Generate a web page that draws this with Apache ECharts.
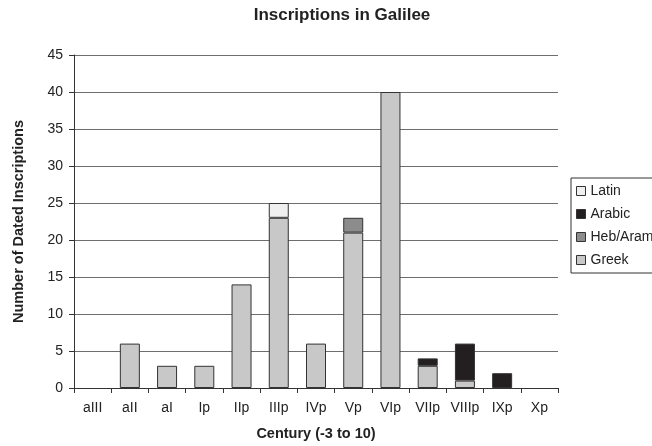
<!DOCTYPE html>
<html><head><meta charset="utf-8">
<script src="https://cdn.jsdelivr.net/npm/echarts@6/dist/echarts.min.js"></script>
<style>html,body{margin:0;padding:0;background:#fff}#c{width:652px;height:446px}</style>
</head><body><div id="c"></div>
<script>
const categories = ['aIII','aII','aI','Ip','IIp','IIIp','IVp','Vp','VIp','VIIp','VIIIp','IXp','Xp'];
const greek   = [0,6,3,3,14,23,6,21,40,3,1,0,0];
const hebAram = [0,0,0,0,0,0,0,2,0,0,0,0,0];
const arabic  = [0,0,0,0,0,0,0,0,0,1,5,2,0];
const latin   = [0,0,0,0,0,2,0,0,0,0,0,0,0];
const legendOrder = ['Latin','Arabic','Heb/Aram','Greek'];

const font = 'Liberation Sans, Arial, sans-serif';
function mk(name, data, color){
  return {name, type:'bar', stack:'s', data: data.map(v => v===0 ? null : v), barWidth:20,
    itemStyle:{color, borderColor:'#333', borderWidth:1}};
}
const chart = echarts.init(document.getElementById('c'));
chart.setOption({
  animation:false,
  textStyle:{fontFamily:font},
  title:{text:'Inscriptions in Galilee', left:337, top:2, textAlign:'center',
    textStyle:{fontFamily:font, fontSize:17, fontWeight:'bold', color:'#222'}},
  legend:{orient:'vertical', left:571, top:178, data:legendOrder, itemWidth:9, itemHeight:9,
    itemGap:9, padding:[6,8,6,5], borderColor:'#333', borderWidth:1,
    textStyle:{fontFamily:font, fontSize:14, color:'#222'},
    icon:'rect', itemStyle:{borderColor:'#333', borderWidth:1}},
  grid:{left:74, right:94, top:55, bottom:55},
  xAxis:{type:'category', data:categories,
    name:'Century (-3 to 10)', nameLocation:'middle', nameGap:38,
    nameTextStyle:{fontFamily:font, fontSize:14.5, fontWeight:'bold', color:'#222'},
    axisLine:{lineStyle:{color:'#333'}},
    axisTick:{show:true, alignWithLabel:false, length:5, lineStyle:{color:'#333'}},
    axisLabel:{fontFamily:font, fontSize:14, color:'#222', margin:13, interval:0, hideOverlap:false}},
  yAxis:{type:'value', min:0, max:45, interval:5,
    name:'Number of Dated Inscriptions', nameLocation:'middle', nameGap:48, nameRotate:90,
    nameTextStyle:{fontFamily:font, fontSize:14.5, fontWeight:'bold', color:'#222'},
    axisLine:{show:true, lineStyle:{color:'#333'}},
    axisTick:{show:true, length:5, lineStyle:{color:'#333'}},
    axisLabel:{fontFamily:font, fontSize:14, color:'#222', margin:11},
    splitLine:{lineStyle:{color:'#6e6e6e'}}},
  series:[
    mk('Greek', greek, '#c8c8c8'),
    mk('Heb/Aram', hebAram, '#8c8c8c'),
    mk('Arabic', arabic, '#231f20'),
    mk('Latin', latin, '#efeff0')
  ]
});
</script></body></html>
